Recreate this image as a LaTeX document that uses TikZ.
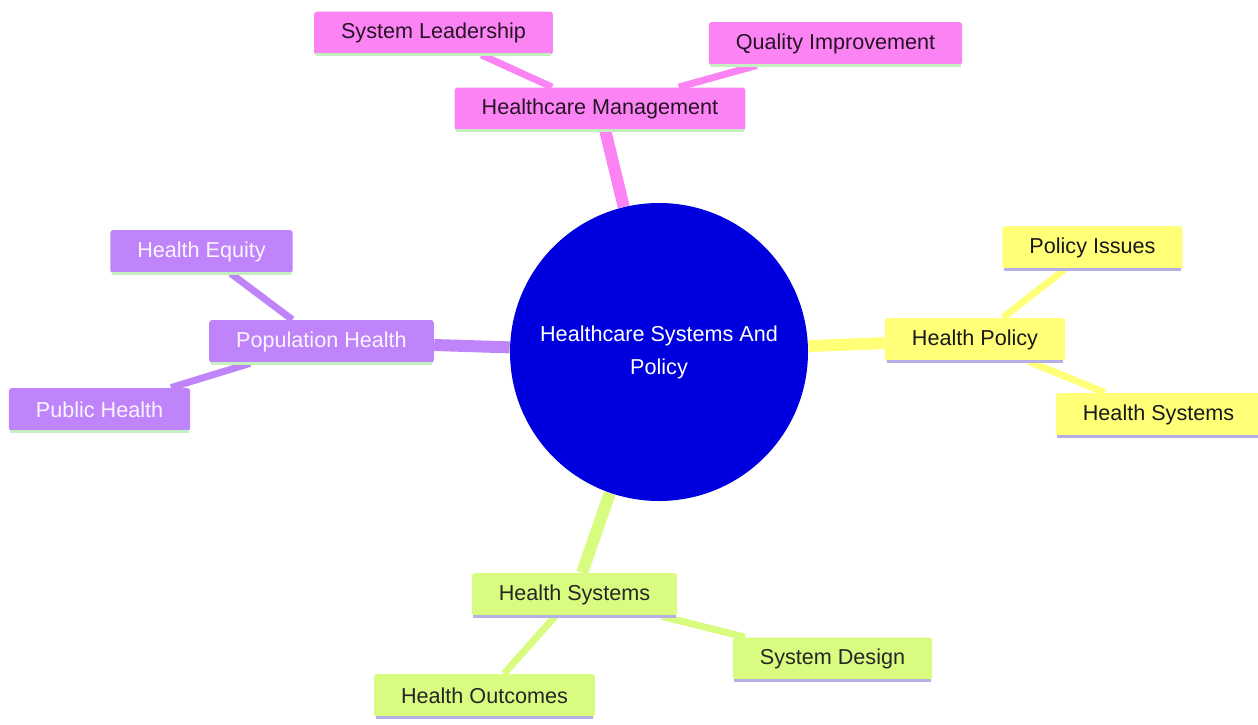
\documentclass[tikz,border=0pt]{standalone}
\usepackage{fontspec}
\setmainfont{Liberation Sans}
\usetikzlibrary{backgrounds}
\definecolor{hub}{HTML}{0000DE}
\definecolor{mgmt}{HTML}{FC83F4}
\definecolor{pol}{HTML}{FFFF78}
\definecolor{pop}{HTML}{C084FA}
\definecolor{sys}{HTML}{D8FC80}
\definecolor{mint}{HTML}{C4F0C0}
\definecolor{lav}{HTML}{B4B0E6}
\begin{document}
\begin{tikzpicture}[x=0.5pt,y=-0.5pt,
  topic/.style={rectangle,rounded corners=1.5pt,inner xsep=13.5pt,inner ysep=0pt,
    minimum height=21.5pt,font=\fontsize{10.8}{13}\selectfont},
  trunk/.style={line width=6pt},
  twig/.style={line width=3.5pt}]
\useasboundingbox (0,0) rectangle (1258,724);
\node[circle,fill=hub,minimum size=149pt,text=white,align=center,
  font=\fontsize{10.8}{16.5}\selectfont] (root) at (659,352) {Healthcare Systems And\\Policy};
% management branch
\node[topic,fill=mgmt,text=black!85!mgmt] (hm) at (600,109) {Healthcare Management};
\node[topic,fill=mgmt,text=black!85!mgmt] (sl) at (433.5,33) {System Leadership};
\node[topic,fill=mgmt,text=black!85!mgmt] (qi) at (835.5,43.5) {Quality Improvement};
% policy branch
\node[topic,fill=pol,text=black!90] (hp) at (975,339.5) {Health Policy};
\node[topic,fill=pol,text=black!90] (pi) at (1092.5,247.5) {Policy Issues};
\node[topic,fill=pol,text=black!90] (hsr) at (1158.5,414.5) {Health Systems};
% population branch
\node[topic,fill=pop,text=white!92!pop] (poph) at (321.5,341.5) {Population Health};
\node[topic,fill=pop,text=white!92!pop] (he) at (201.5,251.5) {Health Equity};
\node[topic,fill=pop,text=white!92!pop] (pubh) at (99.5,409.5) {Public Health};
% systems branch
\node[topic,fill=sys,text=black!85] (hsb) at (574.5,594.5) {Health Systems};
\node[topic,fill=sys,text=black!85] (sd) at (832.5,659) {System Design};
\node[topic,fill=sys,text=black!85] (ho) at (484.5,695.5) {Health Outcomes};
% underlines
\foreach \n/\c in {hm/mint,sl/mint,qi/mint,poph/mint,he/mint,pubh/mint,
                   hp/lav,pi/lav,hsr/lav,hsb/lav,sd/lav,ho/lav}
  \draw[\c,line width=1.5pt] ([xshift=1pt]\n.south west) -- ([xshift=-1pt]\n.south east);
\begin{scope}[on background layer]
\draw[trunk,mgmt] (root) -- (hm);
\draw[twig,mgmt] (hm) -- (sl);
\draw[twig,mgmt] (hm) -- (qi);
\draw[trunk,pol] (root) -- (hp);
\draw[twig,pol] (hp) -- (pi);
\draw[twig,pol] (hp) -- (hsr);
\draw[trunk,pop] (root) -- (poph);
\draw[twig,pop] (poph) -- (he);
\draw[twig,pop] (poph) -- (pubh);
\draw[trunk,sys] (root) -- (hsb);
\draw[twig,sys] (hsb) -- (sd);
\draw[twig,sys] (hsb) -- (ho);
\end{scope}
\end{tikzpicture}
\end{document}
